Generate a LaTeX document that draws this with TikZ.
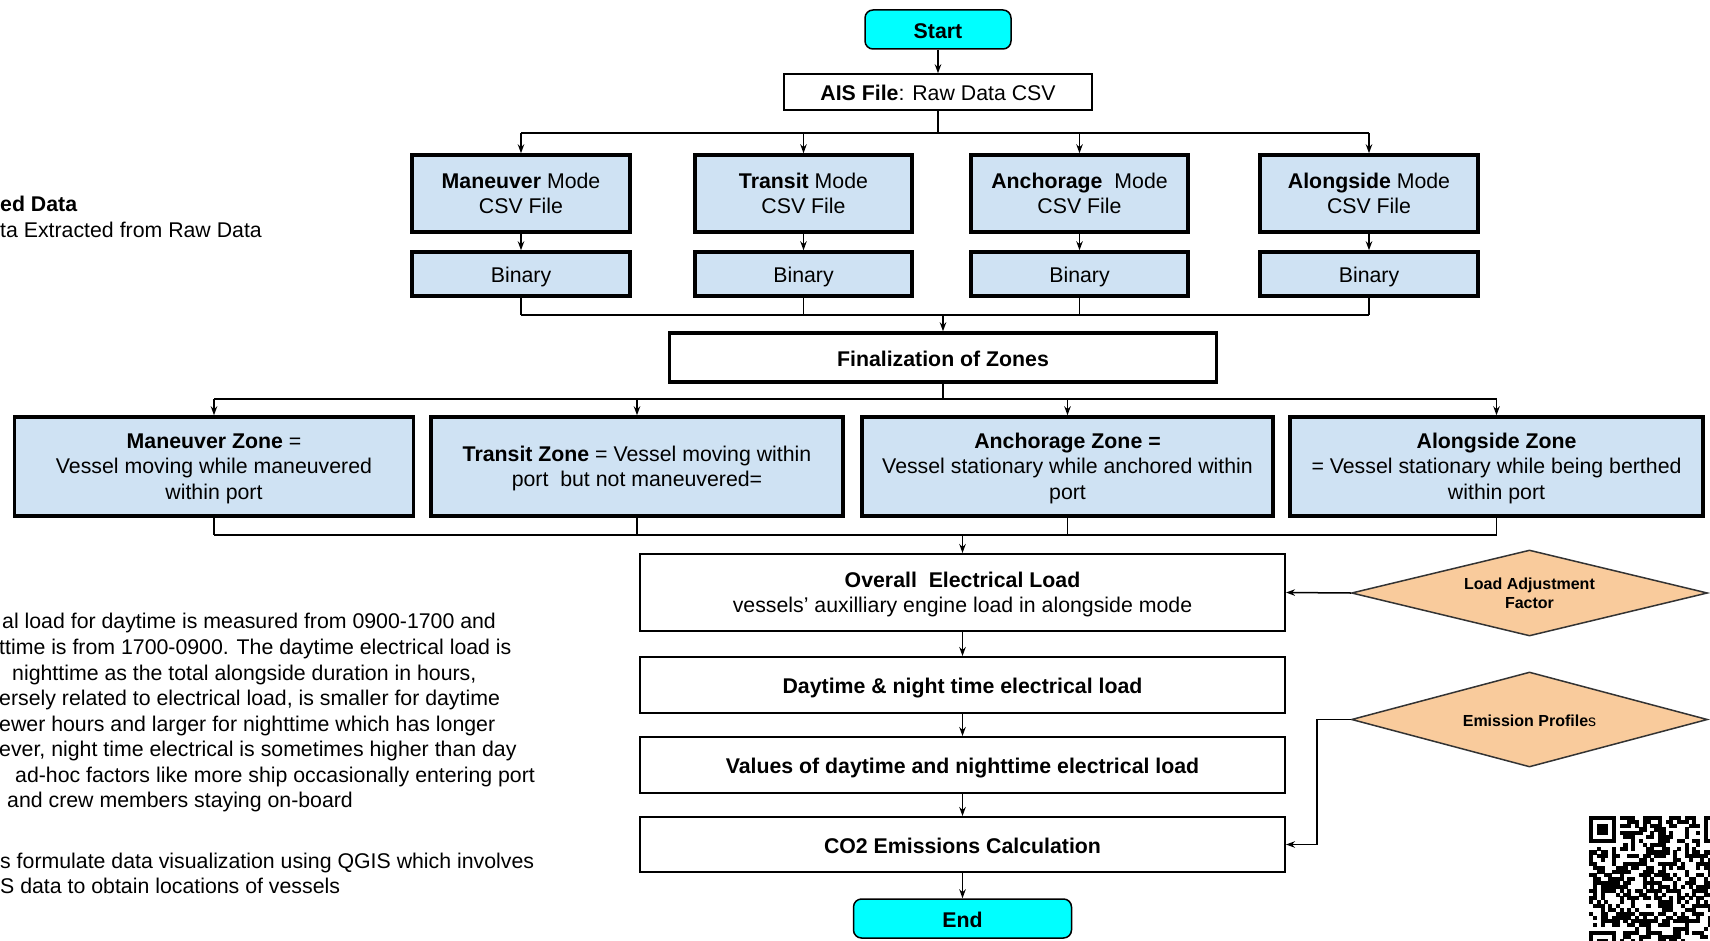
\documentclass[tikz,border=0pt]{standalone}
\usepackage{fontspec}
\setmainfont{Liberation Sans}
\usetikzlibrary{arrows.meta,shapes.geometric,calc}
\definecolor{bluefill}{HTML}{CFE2F3}
\definecolor{cyanfill}{HTML}{00FFFF}
\definecolor{peach}{HTML}{F9CB9C}
\newcommand\topst{\rule{0pt}{0.905em}}
\newcommand\botst{\rule[-0.212em]{0pt}{0.212em}}
\begin{document}
\begin{tikzpicture}[x=1pt,y=-1pt,
 struts/.style={execute at begin node={\rule{0pt}{\dimexpr0.905em+3pt\relax}}, execute at end node={\rule[-0.212em]{0pt}{0.212em}}},
 base/.style={font=\fontsize{21.3}{25.6}\selectfont, inner sep=0pt, align=center, struts},
 modebox/.style={base, draw=black, line width=3.5pt, fill=bluefill},
 whitebox/.style={base, draw=black, line width=2pt, fill=white},
 termbox/.style={base, draw=black, line width=1.5pt, fill=cyanfill, rounded corners=8pt, font=\fontsize{21.3}{25.6}\selectfont\bfseries},
 dia/.style={diamond, shape aspect=4.1, draw=black!80, line width=1.5pt, fill=peach, inner sep=0pt, align=center, struts, font=\fontsize{16}{19}\selectfont\bfseries},
 conn/.style={line width=1.5pt},
 arr/.style={conn, -{Stealth[length=9pt,width=6.5pt]}},
 txt/.style={font=\fontsize{21.3}{25.6}\selectfont, inner sep=0pt, anchor=base west}]
\useasboundingbox (0,0) rectangle (1710,941);

% left texts
\node[txt] (h1) at (0,212) {\textbf{ed Data}};
\node[txt] (h2) at (0,238) {ta Extracted from Raw Data};
\node[txt] (t1) at (2,628) {al load for daytime is measured from 0900-1700 and};
\node[txt] (t2) at (-1,654) {ttime is from 1700-0900. The daytime electrical load is};
\node[txt] (t3) at (12,680) {nighttime as the total alongside duration in hours,};
\node[txt] (t4) at (-1,705) {ersely related to electrical load, is smaller for daytime};
\node[txt] (t5) at (-1,731) {ewer hours and larger for nighttime which has longer};
\node[txt] (t6) at (-1,756) {ever, night time electrical is sometimes higher than day};
\node[txt] (t7) at (15,782) {ad-hoc factors like more ship occasionally entering port};
\node[txt] (t8) at (7,807) {and crew members staying on-board};
\node[txt] (t9) at (0,868) {s formulate data visualization using QGIS which involves};
\node[txt] (t10) at (0,893) {S data to obtain locations of vessels};

% flow nodes
\node[termbox, minimum width=146, minimum height=39] (start) at (938,29.5) {Start};
\node[base, draw=black, line width=1.5pt, minimum width=308, minimum height=36] (ais) at (938,92) {\textbf{AIS File}: Raw Data CSV};

\node[modebox, minimum width=218, minimum height=77] (m1) at (521,193.5) {\topst\textbf{Maneuver} Mode\\CSV File\botst};
\node[modebox, minimum width=217, minimum height=77] (m2) at (803.5,193.5) {\topst\textbf{Transit} Mode\\CSV File\botst};
\node[modebox, minimum width=217, minimum height=77] (m3) at (1079.5,193.5) {\topst\textbf{Anchorage}\ \ Mode\\CSV File\botst};
\node[modebox, minimum width=218, minimum height=77] (m4) at (1369,193.5) {\topst\textbf{Alongside} Mode\\CSV File\botst};

\node[modebox, minimum width=218, minimum height=44] (b1) at (521,274) {Binary};
\node[modebox, minimum width=217, minimum height=44] (b2) at (803.5,274) {Binary};
\node[modebox, minimum width=217, minimum height=44] (b3) at (1079.5,274) {Binary};
\node[modebox, minimum width=218, minimum height=44] (b4) at (1369,274) {Binary};

\node[base, draw=black, line width=3.5pt, fill=white, minimum width=547, minimum height=49] (fin) at (943,357.5) {\textbf{Finalization of Zones}};

\node[modebox, minimum width=399, minimum height=99] (z1) at (214,466.5) {\topst\textbf{Maneuver Zone} =\\Vessel moving while maneuvered\\within port\botst};
\node[modebox, minimum width=412, minimum height=99] (z2) at (637,466.5) {\topst\textbf{Transit Zone} = Vessel moving within\\port\ \ but not maneuvered=\botst};
\node[modebox, minimum width=411, minimum height=99] (z3) at (1067.5,466.5) {\topst\textbf{Anchorage Zone =}\\Vessel stationary while anchored within\\port\botst};
\node[modebox, minimum width=413, minimum height=99] (z4) at (1496.5,466.5) {\topst\textbf{Alongside Zone}\\= Vessel stationary while being berthed\\within port\botst};

\node[whitebox, minimum width=645, minimum height=77] (ov) at (962.5,592.5) {\topst\textbf{Overall\ \ Electrical Load}\\vessels’ auxilliary engine load in alongside mode\botst};
\node[whitebox, minimum width=645, minimum height=56] (day) at (962.5,685) {\textbf{Daytime \& night time electrical load}};
\node[whitebox, minimum width=645, minimum height=56] (val) at (962.5,765) {\textbf{Values of daytime and nighttime electrical load}};
\node[whitebox, minimum width=645, minimum height=55] (co2) at (962.5,844.5) {\textbf{CO2 Emissions Calculation}};
\node[termbox, minimum width=218, minimum height=39] (end) at (962.5,918.5) {End};

\node[dia, minimum width=356, minimum height=86] (load) at (1529.5,593) {\topst Load Adjustment\\Factor\botst};
\node[dia, minimum width=356, minimum height=95] (emis) at (1529.5,719.5) {Emission Profile\textmd{s}};

% connectors
\draw[arr] (start) -- (ais);
\coordinate (busA) at (938,133);
\draw[conn] (ais.south) -- (busA);
\draw[conn] (m1.north |- busA) -- (m4.north |- busA);
\foreach \n in {m1,m2,m3,m4} \draw[arr] (\n.north |- busA) -- (\n.north);
\foreach \i in {1,...,4} \draw[arr] (m\i) -- (b\i);
\coordinate (busB) at (943,315);
\foreach \i in {1,...,4} \draw[conn] (b\i.south) -- (b\i.south |- busB);
\draw[conn] (b1.south |- busB) -- (b4.south |- busB);
\draw[arr] (busB) -- (fin.north);
\coordinate (busC) at (943,399);
\draw[conn] (fin.south) -- (busC);
\draw[conn] (z1.north |- busC) -- (z4.north |- busC);
\foreach \n in {z1,z2,z3,z4} \draw[arr] (\n.north |- busC) -- (\n.north);
\coordinate (busD) at (962.5,535);
\foreach \n in {z1,z2,z3,z4} \draw[conn] (\n.south) -- (\n.south |- busD);
\draw[conn] (z1.south |- busD) -- (z4.south |- busD);
\draw[arr] (busD) -- (ov.north);
\draw[arr] (ov) -- (day);
\draw[arr] (day) -- (val);
\draw[arr] (val) -- (co2);
\draw[arr] (co2) -- (end);
\draw[arr] (load.west) -- (ov.east);
\coordinate (ebend) at (1317,719.5);
\draw[arr] (emis.west) -- (ebend) |- (co2.east);

% QR code (partially visible)
\pgfmathsetseed{4711}
\def\qm{3.83}
\foreach \i in {0,...,36} {
  \foreach \j in {0,...,36} {
    \pgfmathtruncatemacro\fin{((\i<8)&&(\j<8))||((\i>28)&&(\j<8))||((\i<8)&&(\j>28))}
    \pgfmathtruncatemacro\rr{rnd>0.5?1:0}
    \ifnum\fin=0 \ifnum\rr=1
      \fill (1589+\i*\qm,816+\j*\qm) rectangle ++(\qm+0.2,\qm+0.2);
    \fi\fi
  }
}
\foreach \ox/\oy in {0/0,30/0,0/30} {
  \fill (1589+\ox*\qm,816+\oy*\qm) rectangle ++(7*\qm,7*\qm);
  \fill[white] (1589+\ox*\qm+\qm,816+\oy*\qm+\qm) rectangle ++(5*\qm,5*\qm);
  \fill (1589+\ox*\qm+2*\qm,816+\oy*\qm+2*\qm) rectangle ++(3*\qm,3*\qm);
}
\end{tikzpicture}
\end{document}
